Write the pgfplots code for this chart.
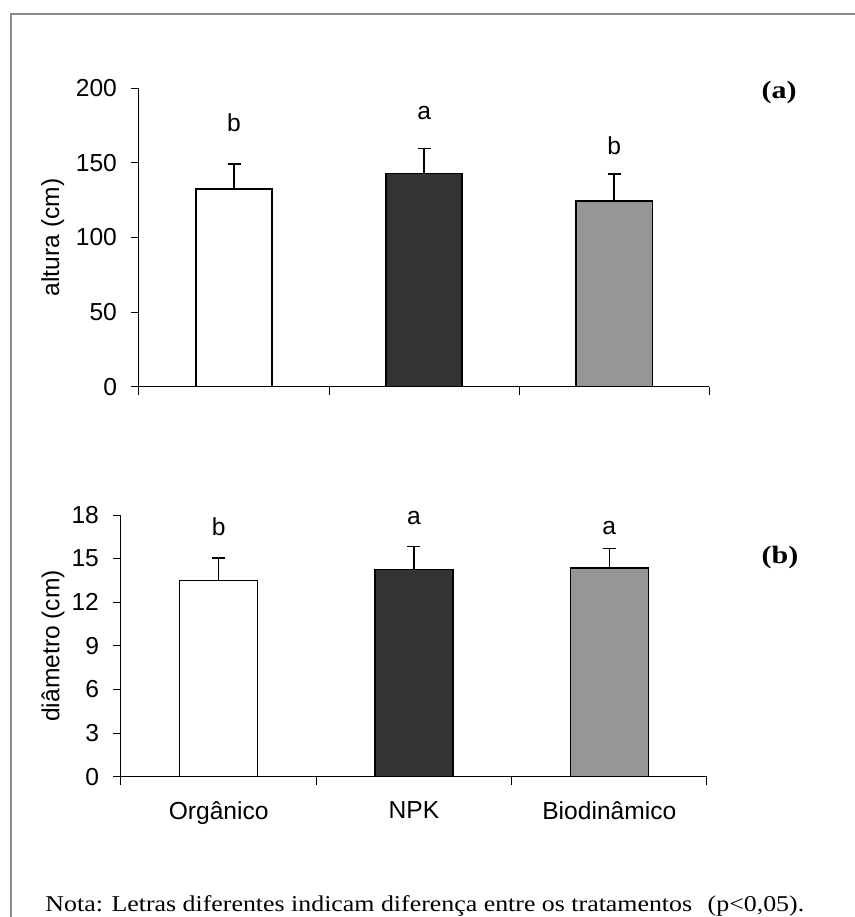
\documentclass[border=0pt]{standalone}
\usepackage{pgfplots}
\pgfplotsset{compat=1.18}
\usepackage{fontspec}
\setmainfont{Liberation Serif}
\setsansfont{Liberation Sans}

\definecolor{npk}{gray}{0.2}
\definecolor{bio}{gray}{0.59}
\definecolor{moldura}{gray}{0.55}

% 1 px of the reference = 0.5pt here
\pgfplotsset{
    painel/.style={
        scale only axis,
        anchor=south west,
        axis x line*=bottom,
        axis y line*=left,
        axis line style={line width=0.5pt, black},
        xmin=-0.5, xmax=2.5, ymin=0,
        xtick={-0.5,0.5,1.5,2.5},
        xticklabels={},
        tick align=outside,
        major tick length=4pt,
        tick style={line width=0.5pt, black},
        ticklabel style={font=\sffamily\fontsize{12.3}{14}\selectfont},
        yticklabel style={xshift=-3.5pt},
        /pgf/number format/assume math mode=true,
        ylabel style={anchor=center, font=\sffamily\fontsize{12.3}{14}\selectfont},
    },
    barra/.style={
        ybar, bar width=0.4, bar shift=0pt,
        draw=black, line width=0.75pt, fill=#1,
        error bars/.cd, y dir=plus, y explicit,
        error bar style={line width=0.75pt, black},
        error mark options={line width=0.75pt, mark size=3.25pt, black, rotate=90},
    },
    letras/.style={
        draw=none, mark=none,
        nodes near coords,
        point meta=explicit symbolic,
        nodes near coords style={anchor=center, inner sep=0pt,
            font=\sffamily\fontsize{12.3}{14}\selectfont},
    },
}

\begin{document}
\begin{tikzpicture}
\useasboundingbox (0,0) rectangle (427.5pt,-458.5pt);
\draw[moldura, line width=1.1pt] (5.3pt,-458.5pt) -- (5.3pt,-7pt) -- (427.5pt,-7pt);

% (a) altura
\begin{axis}[painel,
    at={(69.5pt,-193.35pt)},
    width=285.15pt, height=149.2pt,
    ymax=200, ytick={0,50,...,200},
    ylabel={altura (cm)},
    ylabel style={at={(axis description cs:-0.151,0.5)}},
    ]
    \addplot[barra=white] coordinates {(0,132.5) +- (0,16.8)};
    \addplot[barra=npk] coordinates {(1,142.8) +- (0,16.7)};
    \addplot[barra=bio] coordinates {(2,124.5) +- (0,18.0)};
    \addplot[letras] table[meta=lab] {
        x y lab
        0 176.7 b
        1 183.4 a
        2 161.3 b
    };
\end{axis}

% (b) diametro
\begin{axis}[painel,
    at={(60.5pt,-388.35pt)},
    width=293pt, height=130.85pt,
    ymax=18, ytick={0,3,...,18},
    ylabel={diâmetro (cm)},
    ylabel style={at={(axis description cs:-0.116,0.5)}},
    extra x ticks={0,1,2},
    extra x tick labels={Orgânico,NPK,Biodinâmico},
    extra x tick style={major tick length=0pt,
        xticklabel style={yshift=-9pt}},
    ]
    \addplot[barra=white] coordinates {(0,13.48) +- (0,1.58)};
    \addplot[barra=npk] coordinates {(1,14.24) +- (0,1.58)};
    \addplot[barra=bio] coordinates {(2,14.35) +- (0,1.36)};
    \addplot[letras] table[meta=lab] {
        x y lab
        0 17.17 b
        1 17.77 a
        2 17.14 a
    };
\end{axis}

\node[xscale=1.2, transform shape, font=\rmfamily\bfseries\fontsize{12.5}{14}\selectfont] at (389.5pt,-46pt) {(a)};
\node[xscale=1.2, transform shape, font=\rmfamily\bfseries\fontsize{12.5}{14}\selectfont] at (390pt,-278.5pt) {(b)};
\node[anchor=base west, inner sep=0pt, xscale=1.145, transform shape,
    font=\rmfamily\fontsize{11.3}{13}\selectfont]
    at (22.5pt,-455.5pt) {Nota: Letras diferentes indicam diferença entre os tratamentos\hspace{0.6em}(p<0,05).};
\end{tikzpicture}
\end{document}
